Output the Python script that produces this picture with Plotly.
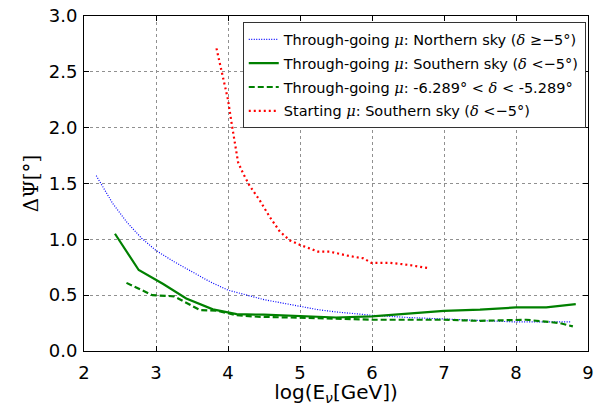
import plotly.graph_objects as go

north_x = [2.17, 2.4, 2.6, 2.8, 3.0, 3.25, 3.5, 3.75, 4.0, 4.25, 4.5, 4.75, 5.0, 5.25, 5.5, 5.75, 6.0, 6.5, 7.0, 7.5, 8.0, 8.5, 8.77]
north_y = [1.57, 1.32, 1.15, 1.01, 0.90, 0.80, 0.71, 0.62, 0.545, 0.50, 0.46, 0.43, 0.40, 0.37, 0.35, 0.335, 0.32, 0.30, 0.285, 0.27, 0.26, 0.26, 0.26]

south_x = [2.43, 2.76, 3.1, 3.42, 3.79, 4.12, 4.5, 5.0, 5.5, 6.0, 6.5, 7.0, 7.5, 8.0, 8.42, 8.83]
south_y = [1.05, 0.725, 0.60, 0.47, 0.373, 0.33, 0.325, 0.31, 0.30, 0.31, 0.335, 0.36, 0.37, 0.39, 0.39, 0.42]

band_x = [2.59, 2.95, 3.25, 3.61, 3.85, 4.12, 4.41, 5.0, 5.5, 6.0, 6.5, 7.0, 7.5, 8.14, 8.61, 8.79]
band_y = [0.61, 0.50, 0.49, 0.367, 0.36, 0.32, 0.307, 0.30, 0.29, 0.28, 0.28, 0.28, 0.27, 0.28, 0.25, 0.22]

start_x = [3.84, 3.88, 3.93, 4.0, 4.05, 4.09, 4.14, 4.21, 4.30, 4.44, 4.58, 4.72, 4.86, 5.0, 5.25, 5.41, 5.69, 5.88, 5.99, 6.25, 6.52, 6.80]
start_y = [2.71, 2.6, 2.45, 2.25, 2.04, 1.89, 1.69, 1.59, 1.48, 1.35, 1.20, 1.07, 0.99, 0.95, 0.89, 0.89, 0.85, 0.83, 0.79, 0.79, 0.77, 0.74]

M = '<span style="font-family:DejaVu Serif"><i>{}</i></span>'
mu = M.format("μ")
de = M.format("δ")
names = [
    f"Through-going {mu}: Northern sky ({de} ≥−5°)",
    f"Through-going {mu}: Southern sky ({de} &lt;−5°)",
    f"Through-going {mu}: -6.289° &lt; {de} &lt; -5.289°",
    f"Starting {mu}: Southern sky ({de} &lt;−5°)",
]

fig = go.Figure()
fig.add_trace(go.Scatter(x=north_x, y=north_y, mode="lines", name=names[0], legendgroup="a",
                         line=dict(color="#0000ff", width=1.2, dash="1px,1.5px")))
fig.add_trace(go.Scatter(x=south_x, y=south_y, mode="lines", name=names[1], legendgroup="b",
                         line=dict(color="#008000", width=2.2)))
fig.add_trace(go.Scatter(x=band_x, y=band_y, mode="lines", name=names[2], legendgroup="c",
                         line=dict(color="#008000", width=2.2, dash="6px,3px")))
fig.add_trace(go.Scatter(x=start_x, y=start_y, mode="lines", name=names[3], legendgroup="d",
                         line=dict(color="#ff0000", width=2.2, dash="2px,3px")))

axis_common = dict(
    showline=True, linecolor="black", linewidth=1, mirror="ticks",
    ticks="inside", ticklen=5, tickcolor="black",
    showgrid=True, gridcolor="#909090", griddash="dot", gridwidth=1,
    zeroline=False, automargin=False, ticklabeloverflow="allow",
    tickfont=dict(family="DejaVu Sans", size=18, color="black"),
)

fig.update_xaxes(range=[2, 9], dtick=1, tick0=2, ticklabelstandoff=5,
                 title=dict(text="log(E<sub><i>ν</i></sub>[GeV])", font=dict(family="DejaVu Sans", size=20, color="black"), standoff=5),
                 **axis_common)
fig.update_yaxes(range=[0, 3], dtick=0.5, tickformat=".1f", ticklabelstandoff=2,
                 title=dict(text="ΔΨ[°]", font=dict(family="DejaVu Serif", size=20, color="black"), standoff=4),
                 **axis_common)

fig.update_layout(
    width=605, height=406,
    margin=dict(l=84, r=17, t=16, b=55),
    paper_bgcolor="white", plot_bgcolor="white",
    font=dict(family="DejaVu Sans", color="black"),
    legend=dict(x=0.315, y=0.981, xanchor="left", yanchor="top",
                bgcolor="white", bordercolor="#333333", borderwidth=1,
                font=dict(family="DejaVu Sans", size=14.5, color="black"),
                tracegroupgap=2, itemwidth=30),
)

fig.write_html("out.html", config={"displayModeBar": False},
               post_script="document.body.style.margin='0';")
